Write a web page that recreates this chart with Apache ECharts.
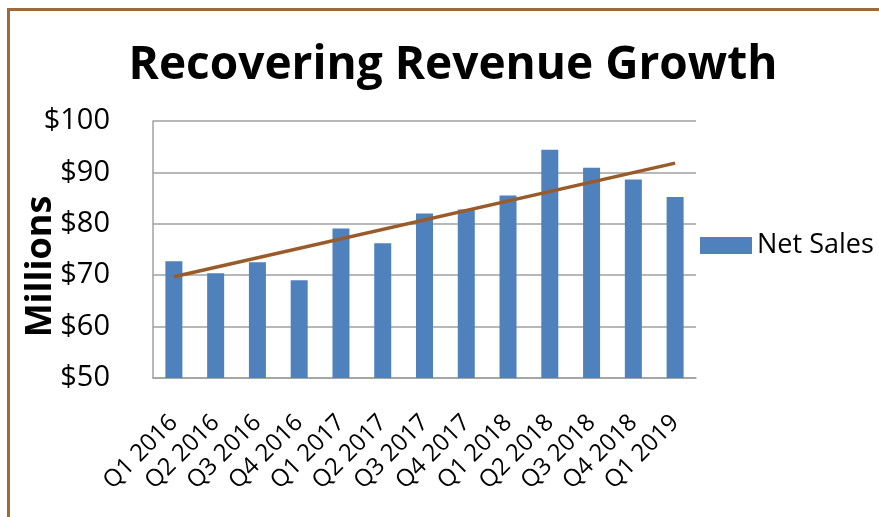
<!DOCTYPE html>
<html>
<head>
<meta charset="utf-8">
<script src="https://cdn.jsdelivr.net/npm/echarts@6/dist/echarts.min.js"></script>
<style>
  html, body { margin: 0; padding: 0; background: #fff; overflow: hidden; }
  #frame { position: absolute; left: 7px; top: 8px; width: 900px; height: 540px;
           border-left: 3px solid #9c6a3b; border-top: 3px solid #9c6a3b; }
  #chart { position: absolute; left: 0; top: 0; width: 879px; height: 517px; }
</style>
</head>
<body>
<div id="frame"></div>
<div id="chart"></div>
<script>
  "use strict";
  var quarters = ['Q1 2016', 'Q2 2016', 'Q3 2016', 'Q4 2016', 'Q1 2017', 'Q2 2017', 'Q3 2017',
    'Q4 2017', 'Q1 2018', 'Q2 2018', 'Q3 2018', 'Q4 2018', 'Q1 2019'];
  var netSales = [72.7, 70.4, 72.5, 69.0, 79.1, 76.2, 82.0, 82.8, 85.5, 94.4, 90.9, 88.6, 85.2];
  // trend line ends (first and last quarter)
  var trendEnds = [69.7, 91.8];
  var yTicks = [50, 60, 70, 80, 90, 100];

  var trend = quarters.map(function (q, i) {
    if (i === 0) return trendEnds[0];
    if (i === quarters.length - 1) return trendEnds[1];
    return null;
  });

  var font = '"Open Sans", "Noto Sans", sans-serif';

  var option = {
    animation: false,
    title: {
      text: 'Recovering Revenue Growth',
      left: 448,
      textAlign: 'center',
      top: 38,
      textStyle: { fontFamily: font, fontSize: 46, fontWeight: 'bold', color: '#000' }
    },
    grid: { left: 153, right: 183, top: 121, bottom: 139 },
    legend: {
      data: ['Net Sales'],
      left: 695,
      top: 227,
      icon: 'rect',
      itemWidth: 52,
      itemHeight: 17,
      itemGap: 6,
      textStyle: { fontFamily: font, fontSize: 27, color: '#000' }
    },
    xAxis: {
      type: 'category',
      data: quarters,
      axisTick: { show: false },
      axisLine: { lineStyle: { color: '#a0a0a0', width: 1.5 } },
      axisLabel: { rotate: 45, fontFamily: font, fontSize: 24, color: '#000', margin: 41, interval: 0 }
    },
    yAxis: {
      type: 'value',
      min: yTicks[0],
      max: yTicks[yTicks.length - 1],
      interval: 10,
      name: 'Millions',
      nameLocation: 'middle',
      nameGap: 94,
      nameMoveOverlap: false,
      nameTextStyle: {
        fontFamily: font, fontSize: 36, fontWeight: 'bold', color: '#000',
        padding: [0, 34, 0, 0]
      },
      axisLine: { show: true, lineStyle: { color: '#a0a0a0', width: 1.5 } },
      axisTick: { show: false },
      splitLine: { lineStyle: { color: '#a0a0a0', width: 1.5 } },
      axisLabel: {
        fontFamily: font, fontSize: 29, color: '#000', margin: 43,
        formatter: function (v) { return '$' + v; }
      }
    },
    series: [{
      name: 'Net Sales',
      type: 'bar',
      data: netSales,
      barWidth: 17,
      itemStyle: { color: '#4f81bd' }
    }, {
      name: 'Trend',
      type: 'line',
      data: trend,
      connectNulls: true,
      symbol: 'none',
      lineStyle: { color: '#9a5b2a', width: 3.5 },
      z: 3
    }]
  };

  var chart = echarts.init(document.getElementById('chart'));
  chart.setOption(option);
</script>
</body>
</html>
